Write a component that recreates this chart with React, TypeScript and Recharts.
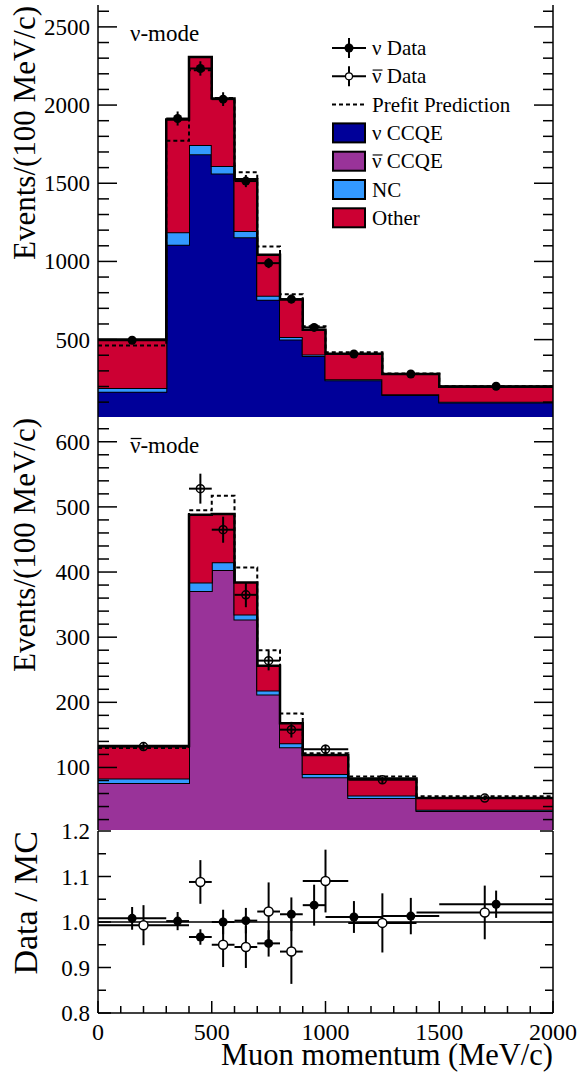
import React from 'react';
import {
  ComposedChart,
  Area,
  Line,
  Scatter,
  ErrorBar,
  XAxis,
  YAxis,
  ReferenceLine,
  Legend,
  Customized,
} from 'recharts';

const FONT = 'Liberation Serif, Times New Roman, Times, serif';
const NU = '\u03BD';

const COLOR_NU_CCQE = '#000099';
const COLOR_NUBAR_CCQE = '#993399';
const COLOR_NC = '#3399ff';
const COLOR_OTHER = '#cc0033';

// ---------- nu-mode (top panel), Events / (100 MeV/c) ----------
const nuEdges = [0, 300, 400, 500, 600, 700, 800, 900, 1000, 1250, 1500, 2000];
const nuCCQE = [166, 1106, 1685, 1563, 1155, 755, 500, 395, 240, 145, 98];
const nuNC = [25, 81, 59, 47, 40, 25, 17, 10, 7, 5, 4];
const nuOther = [309, 721, 564, 432, 330, 262, 240, 158, 163, 130, 96];
const nuPrefit = [463, 1772, 2223, 2045, 1570, 1095, 790, 585, 419, 283, 201];
const nuData = [496, 1914, 2234, 2038, 1514, 989, 759, 578, 408, 280, 202];
const nuDataErr = [15, 45, 46, 44, 39, 32, 28, 24, 13, 11, 6];

// ---------- nubar-mode (middle panel) ----------
const nbEdges = [0, 400, 500, 600, 700, 800, 900, 1100, 1400, 2000];
const nbCCQE = [76, 371, 403, 327, 212, 131, 85, 53, 33];
const nbNC = [7, 13, 12, 8, 6, 6, 5, 4, 2];
const nbOther = [50, 104, 74, 49, 38, 31, 29, 26, 18];
const nbPrefit = [130, 495, 517, 407, 280, 183, 122, 86, 56];
const nbData = [132, 528, 465, 365, 264, 158, 128, 81, 53];
const nbDataErr = [6, 23, 20, 19, 15, 12, 7, 5, 3];

// ---------- Data / MC ratio (bottom panel) ----------
const ratioNu = [1.008, 1.002, 0.967, 1.0, 1.003, 0.953, 1.017, 1.037, 1.011, 1.013, 1.039];
const ratioNuErr = [0.025, 0.02, 0.017, 0.027, 0.028, 0.029, 0.037, 0.045, 0.035, 0.04, 0.03];
const ratioNb = [0.993, 1.088, 0.95, 0.945, 1.023, 0.935, 1.09, 0.998, 1.021];
const ratioNbErr = [0.044, 0.048, 0.049, 0.046, 0.064, 0.071, 0.069, 0.065, 0.059];

// ---------- tick labels ----------
const xMajor = [0, 500, 1000, 1500, 2000];
const nuYMajor = [500, 1000, 1500, 2000, 2500];
const nbYMajor = [100, 200, 300, 400, 500, 600];
const ratioYMajor = [0.8, 0.9, 1.0, 1.1, 1.2];

function steps(lo: number, hi: number, step: number) {
  const out: number[] = [];
  for (let v = lo; v <= hi + 1e-9; v += step) out.push(+v.toFixed(4));
  return out;
}
const xTicks = steps(0, 2000, 100);
const nuYTicks = steps(100, 2600, 100);
const nbYTicks = steps(20, 620, 20);
const ratioYTicks = steps(0.8, 1.2, 0.05);

function histRows(edges: number[], series: Record<string, number[]>) {
  return edges.map((x, i) => {
    const row: any = { x };
    const k = Math.min(i, edges.length - 2);
    for (const key of Object.keys(series)) row[key] = series[key][k];
    return row;
  });
}
function pointRows(edges: number[], values: number[], errs: number[]) {
  return values.map((y, i) => ({
    x: (edges[i] + edges[i + 1]) / 2,
    y,
    ey: errs[i],
    ex: (edges[i + 1] - edges[i]) / 2,
  }));
}

const nuRows = histRows(nuEdges, { ccqe: nuCCQE, nc: nuNC, other: nuOther, prefit: nuPrefit });
const nbRows = histRows(nbEdges, { ccqe: nbCCQE, nc: nbNC, other: nbOther, prefit: nbPrefit });
const nuPoints = pointRows(nuEdges, nuData, nuDataErr);
const nbPoints = pointRows(nbEdges, nbData, nbDataErr);
const ratioNuPoints = pointRows(nuEdges, ratioNu, ratioNuErr);
const ratioNbPoints = pointRows(nbEdges, ratioNb, ratioNbErr);

// ---------- layout ----------
const W = 581;
const PL = 98;
const PR = 553;

// ν with optional bar (ν̄), followed by the rest of the text
function NuText({ x, y, size, bar, rest }: { x: number; y: number; size: number; bar: boolean; rest: string }) {
  return (
    <g>
      <text x={x} y={y} fontSize={size} fontFamily={FONT} fill="#000">
        {NU}
        {rest}
      </text>
      {bar ? (
        <line
          x1={x + 0.03 * size}
          x2={x + 0.5 * size}
          y1={y - 0.63 * size}
          y2={y - 0.63 * size}
          stroke="#000"
          strokeWidth={Math.max(1, size * 0.055)}
        />
      ) : null}
    </g>
  );
}

type Side = 'left' | 'right' | 'top' | 'bottom';
function makeTick(o: {
  side: Side;
  edge: number;
  majors: number[];
  majLen: number;
  minLen: number;
  label?: (v: number) => string;
  labelOffset?: number;
}) {
  return function Tick(props: any) {
    const { x, y, payload } = props;
    const v = payload.value;
    const isMajor = o.majors.some((m) => Math.abs(m - v) < 1e-6);
    const len = isMajor ? o.majLen : o.minLen;
    const e = o.edge;
    let l: any;
    if (o.side === 'left') l = { x1: e, x2: e + len, y1: y, y2: y };
    else if (o.side === 'right') l = { x1: e, x2: e - len, y1: y, y2: y };
    else if (o.side === 'top') l = { x1: x, x2: x, y1: e, y2: e + len };
    else l = { x1: x, x2: x, y1: e, y2: e - len };
    let txt = null;
    if (isMajor && o.label) {
      if (o.side === 'left')
        txt = (
          <text x={e - 8} y={y + 8} textAnchor="end" fontSize={23} fontFamily={FONT} fill="#000">
            {o.label(v)}
          </text>
        );
      else if (o.side === 'bottom')
        txt = (
          <text x={x} y={e + (o.labelOffset || 27)} textAnchor="middle" fontSize={24} fontFamily={FONT} fill="#000">
            {o.label(v)}
          </text>
        );
    }
    return (
      <g>
        <line {...l} stroke="#000" strokeWidth={1.5} />
        {txt}
      </g>
    );
  };
}

const AXIS_LINE = { stroke: '#000', strokeWidth: 1.5 };

const FilledDot = (p: any) => <circle cx={p.cx} cy={p.cy} r={4.5} fill="#000" />;
const HollowDot = (p: any) => (
  <circle cx={p.cx} cy={p.cy} r={4} fill="none" stroke="#000" strokeWidth={1.5} />
);
const WhiteDot = (p: any) => (
  <circle cx={p.cx} cy={p.cy} r={4.5} fill="#fff" stroke="#000" strokeWidth={1.5} />
);

const legendItems = [
  { bar: false, nu: true, label: ' Data', kind: 'filled', color: '' },
  { bar: true, nu: true, label: ' Data', kind: 'open', color: '' },
  { bar: false, nu: false, label: 'Prefit Prediction', kind: 'dash', color: '' },
  { bar: false, nu: true, label: ' CCQE', kind: 'box', color: COLOR_NU_CCQE },
  { bar: true, nu: true, label: ' CCQE', kind: 'box', color: COLOR_NUBAR_CCQE },
  { bar: false, nu: false, label: 'NC', kind: 'box', color: COLOR_NC },
  { bar: false, nu: false, label: 'Other', kind: 'box', color: COLOR_OTHER },
];

function LegendBox() {
  return (
    <svg width={240} height={210} style={{ overflow: 'visible' }}>
      {legendItems.map((it, i) => {
        const cy = 18 + i * 28.3;
        let sym: any = null;
        if (it.kind === 'filled' || it.kind === 'open') {
          sym = (
            <g>
              <line x1={12} x2={46} y1={cy} y2={cy} stroke="#000" strokeWidth={2} />
              <line x1={29} x2={29} y1={cy - 10} y2={cy + 10} stroke="#000" strokeWidth={2} />
              {it.kind === 'filled' ? (
                <circle cx={29} cy={cy} r={4.5} fill="#000" />
              ) : (
                <circle cx={29} cy={cy} r={3.5} fill="#fff" stroke="#000" strokeWidth={1.2} />
              )}
            </g>
          );
        } else if (it.kind === 'dash') {
          sym = <line x1={12} x2={46} y1={cy} y2={cy} stroke="#000" strokeWidth={2} strokeDasharray="4 3" />;
        } else {
          sym = <rect x={13} y={cy - 9.5} width={32} height={19} fill={it.color} stroke="#000" strokeWidth={2} />;
        }
        return (
          <g key={i}>
            {sym}
            {it.nu ? (
              <NuText x={52} y={cy + 7} size={21} bar={it.bar} rest={it.label} />
            ) : (
              <text x={52} y={cy + 7} fontSize={21} fontFamily={FONT} fill="#000">
                {it.label}
              </text>
            )}
          </g>
        );
      })}
    </svg>
  );
}

function TextLayer({ items }: { items: any[] }) {
  return (
    <g>
      {items.map((t, i) => (
        <text
          key={i}
          x={t.x}
          y={t.y}
          fontSize={t.size}
          fontFamily={FONT}
          textAnchor={t.anchor || 'start'}
          transform={t.rotate ? `rotate(-90 ${t.x} ${t.y})` : undefined}
          fill="#000"
        >
          {t.text}
        </text>
      ))}
    </g>
  );
}

function PanelLabels({ bar, top }: { bar: boolean; top: number }) {
  return (
    <g>
      <NuText x={130} y={41} size={23} bar={bar} rest="-mode" />
      <TextLayer
        items={[{ x: 35, y: top + 1, size: 31, text: 'Events/(100 MeV/c)', anchor: 'end', rotate: true }]}
      />
    </g>
  );
}

function histPanel(opts: {
  rows: any[];
  points: any[];
  ccqeColor: string;
  domain: [number, number];
  yTicks: number[];
  yMajors: number[];
  height: number;
  plotBottom: number;
  bar: boolean;
  dotShape: any;
  legend?: boolean;
}) {
  const top = 5;
  const bottom = opts.plotBottom;
  return (
    <ComposedChart
      width={W}
      height={opts.height}
      data={opts.rows}
      margin={{ top: 5, right: 0, left: 0, bottom: opts.height - bottom }}
    >
      <XAxis
        dataKey="x"
        type="number"
        domain={[0, 2000]}
        ticks={xTicks}
        interval={0}
        height={0}
        tickSize={0}
        tickLine={false}
        axisLine={AXIS_LINE}
        allowDataOverflow
        tick={makeTick({ side: 'bottom', edge: bottom, majors: xMajor, majLen: 13, minLen: 7 })}
      />
      <XAxis
        xAxisId="top"
        orientation="top"
        dataKey="x"
        type="number"
        domain={[0, 2000]}
        ticks={xTicks}
        interval={0}
        height={0}
        tickSize={0}
        tickLine={false}
        axisLine={AXIS_LINE}
        allowDataOverflow
        tick={makeTick({ side: 'top', edge: top, majors: xMajor, majLen: 13, minLen: 7 })}
      />
      <YAxis
        type="number"
        domain={opts.domain}
        ticks={opts.yTicks}
        interval={0}
        width={PL}
        tickSize={0}
        tickLine={false}
        axisLine={AXIS_LINE}
        allowDataOverflow
        tick={makeTick({
          side: 'left',
          edge: PL,
          majors: opts.yMajors,
          majLen: 19,
          minLen: 11,
          label: (v) => String(v),
        })}
      />
      <YAxis
        yAxisId="right"
        orientation="right"
        type="number"
        domain={opts.domain}
        ticks={opts.yTicks}
        interval={0}
        width={W - PR}
        tickSize={0}
        tickLine={false}
        axisLine={AXIS_LINE}
        allowDataOverflow
        tick={makeTick({ side: 'right', edge: PR, majors: opts.yMajors, majLen: 19, minLen: 10 })}
      />
      <Area
        dataKey="ccqe"
        stackId="s"
        type="stepAfter"
        fill={opts.ccqeColor}
        fillOpacity={1}
        stroke="#000"
        strokeWidth={2}
        dot={false}
        activeDot={false}
        isAnimationActive={false}
      />
      <Area
        dataKey="nc"
        stackId="s"
        type="stepAfter"
        fill={COLOR_NC}
        fillOpacity={1}
        stroke="#000"
        strokeWidth={2}
        dot={false}
        activeDot={false}
        isAnimationActive={false}
      />
      <Area
        dataKey="other"
        stackId="s"
        type="stepAfter"
        fill={COLOR_OTHER}
        fillOpacity={1}
        stroke="#000"
        strokeWidth={2.5}
        dot={false}
        activeDot={false}
        isAnimationActive={false}
      />
      <Line
        dataKey="prefit"
        type="stepAfter"
        stroke="#000"
        strokeWidth={2}
        strokeDasharray="4 3"
        dot={false}
        activeDot={false}
        isAnimationActive={false}
      />
      <Scatter data={opts.points} dataKey="y" shape={opts.dotShape} isAnimationActive={false}>
        <ErrorBar dataKey="ey" direction="y" width={0} stroke="#000" strokeWidth={2} />
        <ErrorBar dataKey="ex" direction="x" width={0} stroke="#000" strokeWidth={2} />
      </Scatter>
      {opts.legend ? (
        <Legend
          layout="vertical"
          align="center"
          verticalAlign="middle"
          content={() => <LegendBox />}
          wrapperStyle={{ position: 'absolute', left: 320, top: 30, width: 240, height: 210 }}
        />
      ) : null}
      <Customized component={<PanelLabels bar={opts.bar} top={top} />} />
    </ComposedChart>
  );
}

function RatioPanel() {
  const top = 5;
  const bottom = 187;
  const height = 248;
  return (
    <ComposedChart width={W} height={height} margin={{ top, right: 0, left: 0, bottom: 0 }}>
      <XAxis
        dataKey="x"
        type="number"
        domain={[0, 2000]}
        ticks={xTicks}
        interval={0}
        height={height - bottom}
        tickSize={0}
        tickLine={false}
        axisLine={AXIS_LINE}
        allowDataOverflow
        tick={makeTick({
          side: 'bottom',
          edge: bottom,
          majors: xMajor,
          majLen: 12,
          minLen: 7,
          label: (v) => String(v),
          labelOffset: 27,
        })}
      />
      <XAxis
        xAxisId="top"
        orientation="top"
        dataKey="x"
        type="number"
        domain={[0, 2000]}
        ticks={xTicks}
        interval={0}
        height={0}
        tickSize={0}
        tickLine={false}
        axisLine={AXIS_LINE}
        allowDataOverflow
        tick={makeTick({ side: 'top', edge: top, majors: xMajor, majLen: 12, minLen: 7 })}
      />
      <YAxis
        type="number"
        domain={[0.8, 1.2]}
        ticks={ratioYTicks}
        interval={0}
        width={PL}
        tickSize={0}
        tickLine={false}
        axisLine={AXIS_LINE}
        allowDataOverflow
        tick={makeTick({
          side: 'left',
          edge: PL,
          majors: ratioYMajor,
          majLen: 13,
          minLen: 8,
          label: (v) => v.toFixed(1),
        })}
      />
      <YAxis
        yAxisId="right"
        orientation="right"
        type="number"
        domain={[0.8, 1.2]}
        ticks={ratioYTicks}
        interval={0}
        width={W - PR}
        tickSize={0}
        tickLine={false}
        axisLine={AXIS_LINE}
        allowDataOverflow
        tick={makeTick({ side: 'right', edge: PR, majors: ratioYMajor, majLen: 13, minLen: 8 })}
      />
      <ReferenceLine y={1} stroke="#000" strokeWidth={1.5} />
      <Scatter data={ratioNuPoints} dataKey="y" shape={FilledDot} isAnimationActive={false}>
        <ErrorBar dataKey="ey" direction="y" width={0} stroke="#000" strokeWidth={2} />
        <ErrorBar dataKey="ex" direction="x" width={0} stroke="#000" strokeWidth={2} />
      </Scatter>
      <Scatter data={ratioNbPoints} dataKey="y" shape={WhiteDot} isAnimationActive={false}>
        <ErrorBar dataKey="ey" direction="y" width={0} stroke="#000" strokeWidth={2} />
        <ErrorBar dataKey="ex" direction="x" width={0} stroke="#000" strokeWidth={2} />
      </Scatter>
      <Customized
        component={
          <TextLayer
            items={[
              { x: 37, y: top, size: 34, text: 'Data / MC', anchor: 'end', rotate: true },
              { x: 553, y: 239, size: 30.5, text: 'Muon momentum (MeV/c)', anchor: 'end' },
            ]}
          />
        }
      />
    </ComposedChart>
  );
}

export default function App() {
  return (
    <div
      style={{
        position: 'absolute',
        left: 0,
        top: 0,
        width: W,
        height: 1074,
        background: '#fff',
        fontFamily: FONT,
      }}
    >
      <style>{'.recharts-surface{overflow:visible}'}</style>
      <div style={{ position: 'absolute', left: 0, top: 0 }}>
        {histPanel({
          rows: nuRows,
          points: nuPoints,
          ccqeColor: COLOR_NU_CCQE,
          domain: [5, 2640],
          yTicks: nuYTicks,
          yMajors: nuYMajor,
          height: 422,
          plotBottom: 417,
          bar: false,
          dotShape: FilledDot,
          legend: true,
        })}
      </div>
      <div style={{ position: 'absolute', left: 0, top: 412 }}>
        {histPanel({
          rows: nbRows,
          points: nbPoints,
          ccqeColor: COLOR_NUBAR_CCQE,
          domain: [4, 638],
          yTicks: nbYTicks,
          yMajors: nbYMajor,
          height: 423,
          plotBottom: 418,
          bar: true,
          dotShape: HollowDot,
        })}
      </div>
      <div style={{ position: 'absolute', left: 0, top: 826 }}>
        <RatioPanel />
      </div>
    </div>
  );
}
